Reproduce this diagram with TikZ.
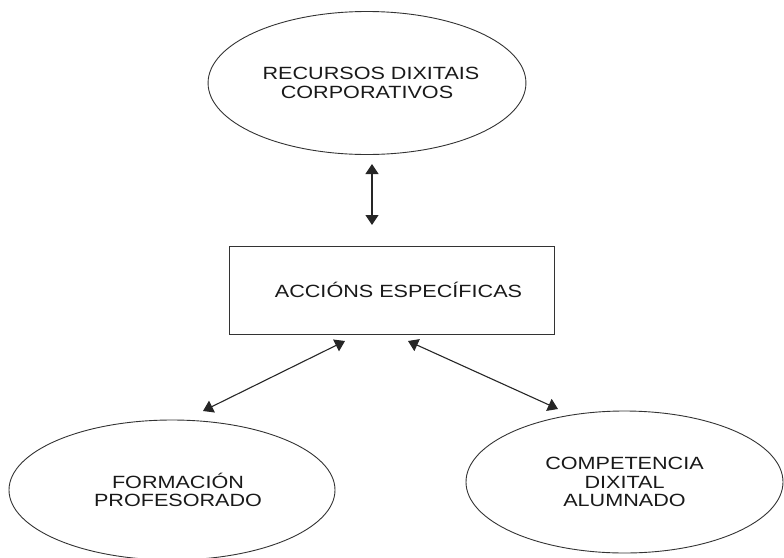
\documentclass[tikz,border=0pt]{standalone}
\usepackage{fontspec}
\newfontfamily\widesans[FakeStretch=1.22]{Liberation Sans}
\usetikzlibrary{shapes.geometric,arrows.meta}
\tikzset{
  lbl/.style={font=\widesans\fontsize{17.7}{18.5}\selectfont, text=black!90, align=center},
  oval/.style={ellipse, draw=black!80, line width=0.9pt, inner sep=0pt, lbl},
  abox/.style={rectangle, draw=black!80, line width=0.9pt, inner sep=0pt, lbl},
  link/.style={draw=black!85, line width=1.1pt, {Triangle[length=10pt,width=13pt]}-{Triangle[length=10pt,width=13pt]}}
}
\begin{document}
\begin{tikzpicture}[x=1pt,y=-1pt]
\useasboundingbox (0,0) rectangle (784,557);
\node[oval, minimum width=308pt, minimum height=143pt] (rec) at (367,83) {\hspace*{8pt}RECURSOS DIXITAIS\\CORPORATIVOS};
\node[abox, minimum width=325pt, minimum height=88pt] (acc) at (391.5,290) {\raisebox{-3pt}{\hspace*{14pt}ACCIÓNS ESPECÍFICAS}};
\node[oval, minimum width=326pt, minimum height=140pt] (for) at (172,490) {\hspace*{12pt}FORMACIÓN\\\hspace*{12pt}PROFESORADO};
\node[oval, minimum width=317pt, minimum height=142pt] (com) at (624.5,482) {COMPETENCIA\\DIXITAL\\ALUMNADO};
\coordinate (t1) at (372,164);
\coordinate (t2) at (372,225);
\coordinate (l1) at (345,341);
\coordinate (l2) at (203,411);
\coordinate (r1) at (408,341);
\coordinate (r2) at (558,409);
\draw[link] (t1) -- (t2);
\draw[link] (l1) -- (l2);
\draw[link] (r1) -- (r2);
\end{tikzpicture}
\end{document}
